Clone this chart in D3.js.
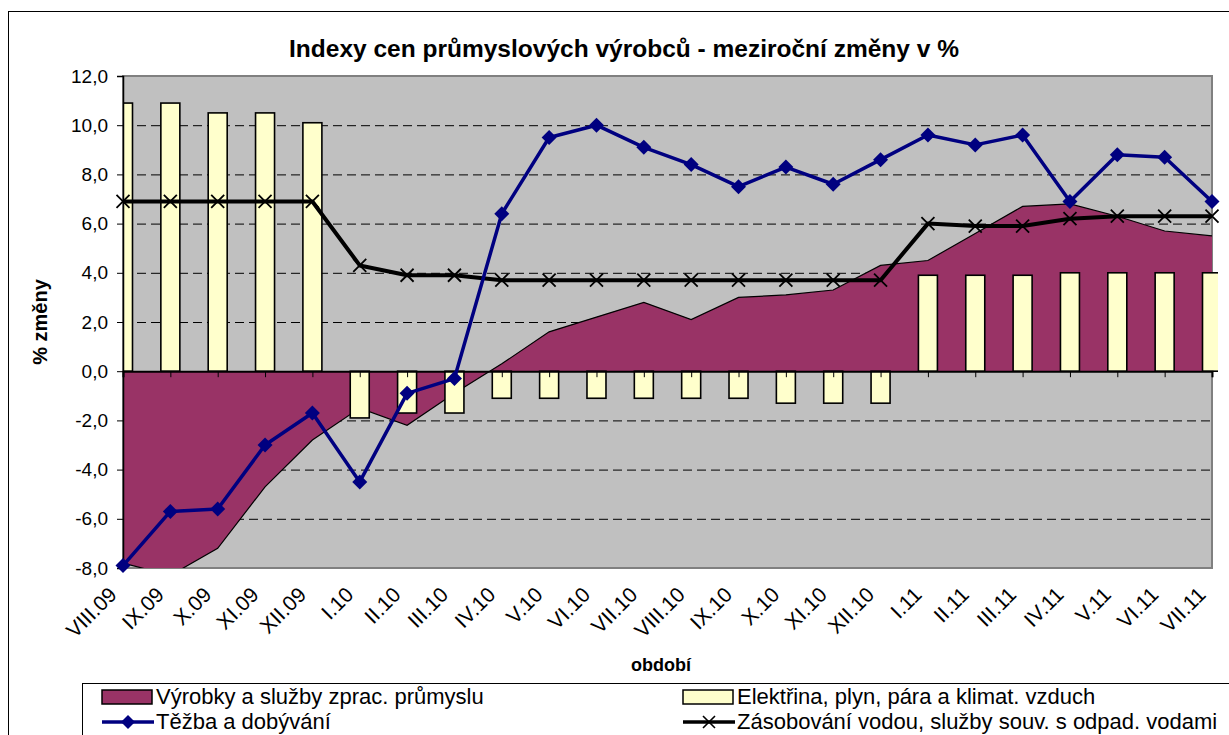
<!DOCTYPE html>
<html><head><meta charset="utf-8">
<script src="https://cdn.jsdelivr.net/npm/d3@7"></script>
<style>
html,body{margin:0;padding:0;background:#fff;overflow:hidden}
svg{display:block;font-family:Arial,"Liberation Sans",sans-serif}
</style></head>
<body>
<script>
const categories = ["VIII.09","IX.09","X.09","XI.09","XII.09","I.10","II.10","III.10","IV.10","V.10","VI.10","VII.10","VIII.10","IX.10","X.10","XI.10","XII.10","I.11","II.11","III.11","IV.11","V.11","VI.11","VII.11"];
const vyrobky = [-7.8,-8.3,-7.2,-4.7,-2.8,-1.5,-2.2,-0.9,0.3,1.6,2.2,2.8,2.1,3.0,3.1,3.3,4.3,4.5,5.6,6.7,6.8,6.3,5.7,5.5];
const elektrina = [10.9,10.9,10.5,10.5,10.1,-1.9,-1.7,-1.7,-1.1,-1.1,-1.1,-1.1,-1.1,-1.1,-1.3,-1.3,-1.3,3.9,3.9,3.9,4.0,4.0,4.0,4.0];
const tezba = [-7.9,-5.7,-5.6,-3.0,-1.7,-4.5,-0.9,-0.3,6.4,9.5,10.0,9.1,8.4,7.5,8.3,7.6,8.6,9.6,9.2,9.6,6.9,8.8,8.7,6.9];
const voda = [6.9,6.9,6.9,6.9,6.9,4.3,3.9,3.9,3.7,3.7,3.7,3.7,3.7,3.7,3.7,3.7,3.7,6.0,5.9,5.9,6.2,6.3,6.3,6.3];
const yTicks = [-8,-6,-4,-2,0,2,4,6,8,10,12];
const seriesNames = ["Výrobky a služby zprac. průmyslu","Elektřina, plyn, pára a klimat. vzduch","Těžba a dobývání","Zásobování vodou, služby souv. s odpad. vodami"];
const titleText = "Indexy cen průmyslových výrobců - meziroční změny v %";

const W = 1229, H = 735;
const L = 123, R = 1212, T = 76, B = 568;
const svg = d3.select("body").append("svg").attr("width", W).attr("height", H);

// outer chart border
svg.append("rect").attr("x", 8.5).attr("y", 11.5).attr("width", 1300).attr("height", 800)
  .attr("fill", "#fff").attr("stroke", "#000").attr("stroke-width", 1);

const x = d3.scalePoint().domain(categories).range([L, R]).padding(0);
const y = d3.scaleLinear().domain([-8, 12]).range([B, T]);
const fmt = v => d3.format(".1f")(v).replace(".", ",").replace("−", "-");

// plot area
svg.append("rect").attr("x", L).attr("y", T).attr("width", R - L).attr("height", B - T)
  .attr("fill", "#C0C0C0").attr("stroke", "#808080").attr("stroke-width", 2);

const defs = svg.append("defs");
defs.append("clipPath").attr("id", "clipPlot").append("rect")
  .attr("x", L).attr("y", T).attr("width", R - L).attr("height", B - T);
defs.append("clipPath").attr("id", "clipBars").append("rect")
  .attr("x", L).attr("y", T - 5).attr("width", R - L + 6).attr("height", B - T + 10);

// gridlines
svg.append("g").selectAll("line").data(yTicks.filter(v => v !== 0 && v !== 12 && v !== -8)).join("line")
  .attr("x1", L).attr("x2", R).attr("y1", d => y(d) + 0.5).attr("y2", d => y(d) + 0.5)
  .attr("stroke", "#000").attr("stroke-width", 1).attr("stroke-dasharray", "9,5");

// area
const area = d3.area().x((d, i) => x(categories[i])).y0(y(0)).y1(d => y(d));
const areaLine = d3.line().x((d, i) => x(categories[i])).y(d => y(d));
const ag = svg.append("g").attr("clip-path", "url(#clipPlot)");
ag.append("path").datum(vyrobky).attr("d", area).attr("fill", "#993366");
ag.append("path").datum(vyrobky).attr("d", areaLine).attr("fill", "none").attr("stroke", "#000").attr("stroke-width", 1.2);

// bars
const bw = 19;
svg.append("g").attr("clip-path", "url(#clipBars)").selectAll("rect").data(elektrina).join("rect")
  .attr("x", (d, i) => x(categories[i]) - bw / 2)
  .attr("y", d => Math.min(y(d), y(0)))
  .attr("width", bw)
  .attr("height", d => Math.abs(y(d) - y(0)))
  .attr("fill", "#FFFFCC").attr("stroke", "#000").attr("stroke-width", 1.6);

// x axis at zero
const xAxis = d3.axisBottom(x).tickSize(6).tickFormat("");
const xg = svg.append("g").attr("transform", `translate(0,${y(0)})`).call(xAxis);
xg.select(".domain").attr("stroke", "#000").attr("stroke-width", 2);
xg.selectAll(".tick line").attr("stroke", "#000").attr("stroke-width", 1);

// y axis
const yAxis = d3.axisLeft(y).tickValues(yTicks).tickSize(6).tickFormat(fmt).tickPadding(9);
const yg = svg.append("g").attr("transform", `translate(${L},0)`).call(yAxis);
yg.select(".domain").attr("stroke", "#000").attr("stroke-width", 1.5);
yg.selectAll(".tick line").attr("stroke", "#000");
yg.selectAll(".tick text").attr("font-size", 19).attr("fill", "#000")
  .attr("font-family", 'Arial,"Liberation Sans",sans-serif');

// x labels
svg.append("g").selectAll("text").data(categories).join("text")
  .attr("transform", d => `translate(${x(d) - 5},${B + 28}) rotate(-45)`)
  .attr("text-anchor", "end").attr("font-size", 21).attr("fill", "#000").text(d => d);

// water line
const ln = d3.line().x((d, i) => x(categories[i])).y(d => y(d));
svg.append("path").datum(voda).attr("d", ln).attr("fill", "none").attr("stroke", "#000").attr("stroke-width", 4).attr("stroke-linejoin", "round");
const xs = 6.5;
svg.append("g").selectAll("path").data(voda).join("path")
  .attr("d", (d, i) => { const cx = x(categories[i]), cy = y(d); return `M${cx-xs},${cy-xs}L${cx+xs},${cy+xs}M${cx-xs},${cy+xs}L${cx+xs},${cy-xs}`; })
  .attr("stroke", "#000").attr("stroke-width", 1.8).attr("fill", "none");

// mining line
svg.append("path").datum(tezba).attr("d", ln).attr("fill", "none").attr("stroke", "#000080").attr("stroke-width", 3.5).attr("stroke-linejoin", "round");
const ds = 7.5;
svg.append("g").selectAll("path").data(tezba).join("path")
  .attr("d", (d, i) => { const cx = x(categories[i]), cy = y(d); return `M${cx},${cy-ds}L${cx+ds},${cy}L${cx},${cy+ds}L${cx-ds},${cy}Z`; })
  .attr("fill", "#000080");

// titles
svg.append("text").attr("x", 624).attr("y", 57).attr("text-anchor", "middle")
  .attr("font-size", 24.5).attr("font-weight", "bold").text(titleText);
svg.append("text").attr("transform", `translate(47,${(T + B) / 2}) rotate(-90)`).attr("text-anchor", "middle")
  .attr("font-size", 20).attr("font-weight", "bold").text("% změny");
svg.append("text").attr("x", 661).attr("y", 671).attr("text-anchor", "middle")
  .attr("font-size", 18).attr("font-weight", "bold").text("období");

// legend
const lg = svg.append("g");
lg.append("rect").attr("x", 82.5).attr("y", 683.5).attr("width", 1200).attr("height", 100).attr("fill", "#fff").attr("stroke", "#000").attr("stroke-width", 1);
const col1 = 102, col2 = 683, row1 = 697, row2 = 722;
lg.append("rect").attr("x", col1).attr("y", row1 - 7).attr("width", 50).attr("height", 14).attr("fill", "#993366").attr("stroke", "#000").attr("stroke-width", 1.5);
lg.append("rect").attr("x", col2).attr("y", row1 - 7).attr("width", 50).attr("height", 14).attr("fill", "#FFFFCC").attr("stroke", "#000").attr("stroke-width", 1.5);
lg.append("line").attr("x1", col1).attr("x2", col1 + 52).attr("y1", row2).attr("y2", row2).attr("stroke", "#000080").attr("stroke-width", 3.5);
lg.append("path").attr("d", `M${col1+26},${row2-7}L${col1+33},${row2}L${col1+26},${row2+7}L${col1+19},${row2}Z`).attr("fill", "#000080");
lg.append("line").attr("x1", col2).attr("x2", col2 + 52).attr("y1", row2).attr("y2", row2).attr("stroke", "#000").attr("stroke-width", 3.5);
lg.append("path").attr("d", `M${col2+20},${row2-6}L${col2+32},${row2+6}M${col2+20},${row2+6}L${col2+32},${row2-6}`).attr("stroke", "#000").attr("stroke-width", 1.6);
const lt = [[col1 + 54, row1, seriesNames[0]], [col2 + 54, row1, seriesNames[1]], [col1 + 54, row2, seriesNames[2]], [col2 + 54, row2, seriesNames[3]]];
lg.selectAll("text.lt").data(lt).join("text").attr("class", "lt")
  .attr("x", d => d[0]).attr("y", d => d[1] + 7).attr("font-size", 22).attr("fill", "#000").text(d => d[2]);
</script>
</body></html>
